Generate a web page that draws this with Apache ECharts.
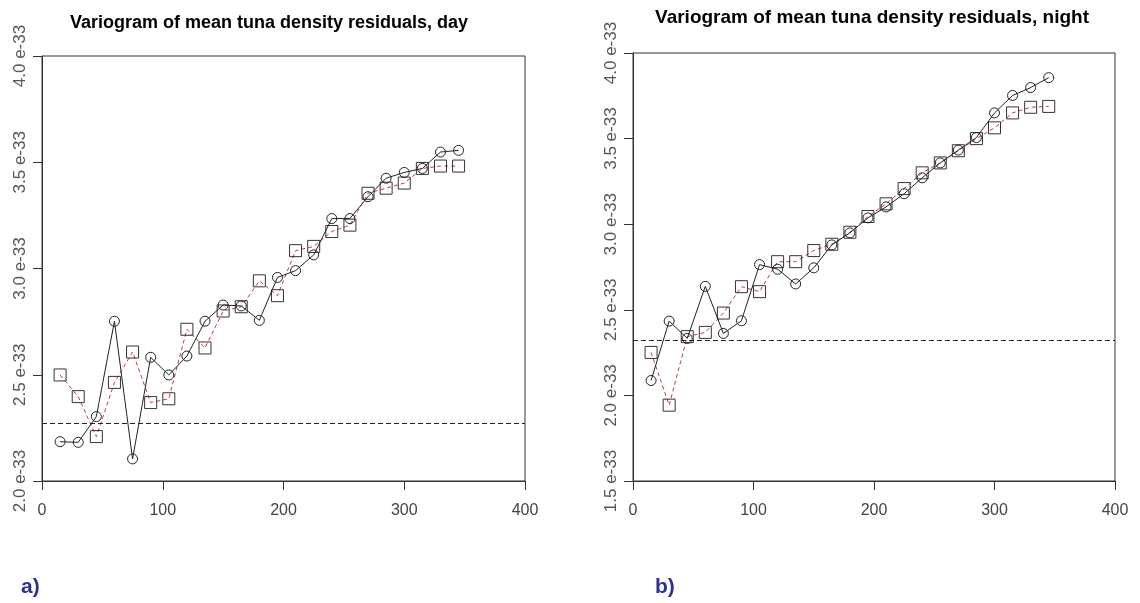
<!DOCTYPE html>
<html>
<head>
<meta charset="utf-8">
<script src="https://cdn.jsdelivr.net/npm/echarts@6/dist/echarts.min.js"></script>
<style>
html,body{margin:0;padding:0;background:#fff;}
#chart{width:1140px;height:603px;}
</style>
</head>
<body>
<div id="chart"></div>
<script>
// Lag distances (x) shared by both panels
const lags = [15,30,45,60,75,90,105,120,135,150,165,180,195,210,225,240,255,270,285,300,315,330,345];
// Values are in units of 1e-33
const dayCircles = [2.185,2.182,2.303,2.752,2.104,2.582,2.499,2.588,2.752,2.828,2.824,2.756,2.958,2.990,3.064,3.235,3.235,3.338,3.425,3.452,3.471,3.548,3.556];
const daySquares = [2.499,2.397,2.209,2.464,2.607,2.369,2.387,2.714,2.626,2.800,2.820,2.942,2.872,3.084,3.104,3.174,3.204,3.354,3.378,3.402,3.471,3.482,3.482];
const nightCircles = [2.087,2.434,2.333,2.637,2.362,2.436,2.764,2.737,2.651,2.745,2.879,2.949,3.037,3.101,3.178,3.271,3.358,3.433,3.506,3.650,3.752,3.798,3.856];
const nightSquares = [2.251,1.943,2.343,2.368,2.481,2.635,2.606,2.781,2.781,2.846,2.883,2.953,3.045,3.119,3.208,3.300,3.358,3.429,3.500,3.563,3.650,3.683,3.688];
const daySill = 2.272;
const nightSill = 2.323;
const xTicks = [0,100,200,300,400];
const titles = ["Variogram of mean tuna density residuals, day", "Variogram of mean tuna density residuals, night"];
const panelLabels = ["a)", "b)"];

const chart = echarts.init(document.getElementById('chart'), null, {renderer:'canvas'});
const FONT = '"Liberation Sans", Arial, sans-serif';

function pairs(xs, ys){ return xs.map((x,i)=>[x, ys[i]]); }

function xAxisCfg(gi){
  return {
    type:'value', gridIndex:gi, min:xTicks[0], max:xTicks[xTicks.length-1], interval:100,
    axisLine:{show:true, lineStyle:{color:'#333', width:1}},
    axisTick:{show:true, inside:false, length:9, lineStyle:{color:'#333'}},
    axisLabel:{show:true, margin:22, color:'#444', fontSize:16, fontFamily:FONT},
    splitLine:{show:false}
  };
}
function yAxisCfg(gi, min){
  return {
    type:'value', gridIndex:gi, min:min, max:4.0, interval:0.5,
    axisLine:{show:true, lineStyle:{color:'#333', width:1}},
    axisTick:{show:true, inside:false, length:9, lineStyle:{color:'#333'}},
    axisLabel:{show:true, rotate:90, margin:13, color:'#555', fontSize:17, fontFamily:FONT,
      formatter:(v)=> v.toFixed(1) + ' e-33'},
    splitLine:{show:false}
  };
}
function circleSeries(xi, ys, sill){
  return {
    type:'line', xAxisIndex:xi, yAxisIndex:xi, data:pairs(lags, ys),
    symbol:'circle', symbolSize:10, showAllSymbol:true,
    itemStyle:{color:'transparent', borderColor:'#222', borderWidth:1},
    lineStyle:{color:'#222', width:1},
    z:3,
    markLine:{silent:true, symbol:['none','none'], label:{show:false},
      lineStyle:{color:'#222', type:[5,3], width:1},
      data:[{yAxis:sill}]}
  };
}
function squareSeries(xi, ys){
  return {
    type:'line', xAxisIndex:xi, yAxisIndex:xi, data:pairs(lags, ys),
    symbol:'rect', symbolSize:12, showAllSymbol:true,
    itemStyle:{color:'transparent', borderColor:'#333', borderWidth:1},
    lineStyle:{color:'#c83a3a', width:1, type:[4,3]},
    z:2
  };
}

const option = {
  backgroundColor:'#fff',
  animation:false,
  title:[
    {text:titles[0], left:264, top:9, textAlign:'center',
      textStyle:{fontFamily:FONT, fontWeight:'bold', fontSize:18, color:'#000'}},
    {text:titles[1], left:867, top:3, textAlign:'center',
      textStyle:{fontFamily:FONT, fontWeight:'bold', fontSize:19, color:'#000'}},
    {text:panelLabels[0], left:16, top:572,
      textStyle:{fontFamily:FONT, fontWeight:'bold', fontSize:21, color:'#2e3192'}},
    {text:panelLabels[1], left:650, top:572,
      textStyle:{fontFamily:FONT, fontWeight:'bold', fontSize:21, color:'#2e3192'}}
  ],
  grid:[
    {left:42, right:615, top:56, bottom:122, show:true, borderColor:'#333', borderWidth:1, backgroundColor:'transparent'},
    {left:633, right:25, top:53, bottom:122, show:true, borderColor:'#333', borderWidth:1, backgroundColor:'transparent'}
  ],
  xAxis:[xAxisCfg(0), xAxisCfg(1)],
  yAxis:[yAxisCfg(0, 2.0), yAxisCfg(1, 1.5)],
  series:[
    squareSeries(0, daySquares),
    circleSeries(0, dayCircles, daySill),
    squareSeries(1, nightSquares),
    circleSeries(1, nightCircles, nightSill)
  ]
};
chart.setOption(option);
</script>
</body>
</html>
